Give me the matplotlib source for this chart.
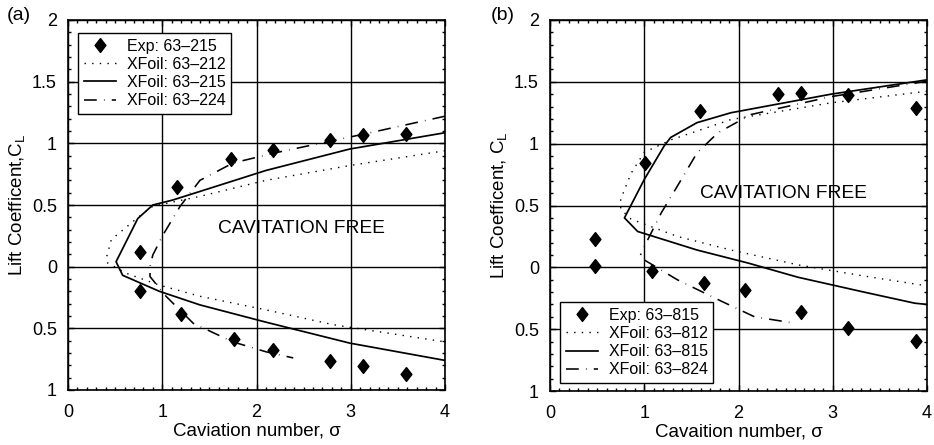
import matplotlib
matplotlib.use("Agg")
import matplotlib.pyplot as plt
from matplotlib.ticker import MultipleLocator, FixedLocator, FixedFormatter

plt.rcParams['font.family'] = ['Liberation Sans', 'DejaVu Sans']

# ---------------- Panel (a) data ----------------
a_exp_x = [0.76, 0.76, 1.16, 1.20, 1.73, 1.76, 2.17, 2.17, 2.78, 2.78, 3.13, 3.13, 3.59, 3.59]
a_exp_y = [0.116, -0.197, 0.643, -0.384, 0.87, -0.589, 0.943, -0.678, 1.024, -0.762, 1.068, -0.805, 1.078, -0.868]

a_212_x = [4.0, 2.99, 2.1, 1.4, 0.9, 0.76, 0.46, 0.41, 0.42, 0.62, 0.97, 1.4, 2.1, 2.81, 4.0]
a_212_y = [0.94, 0.82, 0.70, 0.57, 0.49, 0.41, 0.22, 0.08, 0.03, -0.054, -0.15, -0.24, -0.35, -0.47, -0.61]

a_215_x = [4.0, 2.99, 2.1, 1.4, 1.11, 0.9, 0.74, 0.51, 0.58, 0.97, 1.4, 2.1, 2.99, 4.0]
a_215_y = [1.086, 0.954, 0.78, 0.61, 0.54, 0.50, 0.39, 0.04, -0.07, -0.20, -0.31, -0.45, -0.62, -0.76]

a_224_x = [4.0, 3.17, 2.18, 1.75, 1.4, 1.19, 1.01, 0.90, 0.87, 0.87, 1.04, 1.33, 1.75, 2.1, 2.39]
a_224_y = [1.22, 1.08, 0.92, 0.84, 0.70, 0.49, 0.26, 0.095, 0.0, -0.08, -0.24, -0.46, -0.61, -0.69, -0.74]

# ---------------- Panel (b) data ----------------
b_exp_x = [0.48, 0.48, 1.01, 1.08, 1.59, 1.63, 2.07, 2.42, 2.66, 2.66, 3.16, 3.16, 3.88, 3.88]
b_exp_y = [0.232, 0.008, 0.844, -0.032, 1.262, -0.127, -0.186, 1.403, 1.411, -0.364, 1.397, -0.491, 1.29, -0.599]

b_812_x = [4.0, 2.98, 1.92, 1.28, 1.0, 0.86, 0.75, 0.75, 0.86, 1.35, 1.92, 2.63, 3.33, 4.0]
b_812_y = [1.424, 1.33, 1.195, 1.03, 0.93, 0.76, 0.55, 0.47, 0.39, 0.25, 0.14, 0.02, -0.07, -0.15]

b_815_x = [4.0, 2.98, 1.92, 1.56, 1.28, 1.21, 1.0, 0.79, 0.93, 1.56, 2.10, 2.63, 3.33, 3.87, 4.0]
b_815_y = [1.516, 1.40, 1.25, 1.17, 1.05, 0.98, 0.71, 0.40, 0.29, 0.14, 0.035, -0.08, -0.20, -0.29, -0.30]

b_824_up_x = [4.0, 2.98, 2.13, 1.78, 1.56, 1.35, 1.18, 1.02, 0.96]
b_824_up_y = [1.505, 1.38, 1.235, 1.087, 0.925, 0.655, 0.44, 0.197, 0.10]
b_824_lo_x = [1.0, 1.35, 1.78, 2.17, 2.54]
b_824_lo_y = [0.06, -0.10, -0.26, -0.40, -0.445]

y_ticks = [-1, -0.5, 0, 0.5, 1, 1.5, 2]
y_tick_labels = ["1", "0.5", "0", "0.5", "1", "1.5", "2"]
x_ticks = [0, 1, 2, 3, 4]
x_tick_labels = ["0", "1", "2", "3", "4"]

fig = plt.figure(figsize=(9.34, 4.45), dpi=100)
axA = fig.add_axes([68/934, 1-390/445, (445-68)/934, 370/445])
axB = fig.add_axes([550/934, 1-391/445, (927-550)/934, 371/445])

dash_style = (0, (8, 4.5, 0.4, 4.5))
dot_style = (0, (1, 4.5))
diamond = [(0, 1), (0.78, 0), (0, -1), (-0.78, 0), (0, 1)]

def style(ax, ylabel, xlabel):
    ax.set_xlim(0, 4)
    ax.set_ylim(-1, 2)
    ax.xaxis.set_major_locator(FixedLocator(x_ticks))
    ax.xaxis.set_major_formatter(FixedFormatter(x_tick_labels))
    ax.yaxis.set_major_locator(FixedLocator(y_ticks))
    ax.yaxis.set_major_formatter(FixedFormatter(y_tick_labels))
    ax.xaxis.set_minor_locator(MultipleLocator(0.1))
    ax.yaxis.set_minor_locator(MultipleLocator(0.1))
    ax.tick_params(which='both', direction='in', top=True, right=True, labelsize=13, color='black')
    ax.tick_params(which='major', length=4, width=1)
    ax.tick_params(axis='x', which='major', pad=10)
    ax.tick_params(axis='y', which='major', pad=8)
    ax.tick_params(which='minor', length=2, width=1)
    ax.grid(True, which='major', color='black', linewidth=1)
    ax.set_axisbelow(True)
    for s in ax.spines.values():
        s.set_linewidth(1.2)
    ax.set_xlabel(xlabel, fontsize=13.5, labelpad=1)
    ax.set_ylabel(ylabel, fontsize=13.5, labelpad=3)

# Panel (a)
axA.plot(a_exp_x, a_exp_y, linestyle='none', marker=diamond, markersize=10, color='black',
         label="Exp: 63–215", zorder=5)
axA.plot(a_212_x, a_212_y, linestyle=dot_style, color='black', linewidth=1, label="XFoil: 63–212")
axA.plot(a_215_x, a_215_y, linestyle='-', color='black', linewidth=1.25, label="XFoil: 63–215")
axA.plot(a_224_x, a_224_y, linestyle=dash_style, color='black', linewidth=1.15, label="XFoil: 63–224")
style(axA, r"Lift Coefficent,C$_\mathregular{L}$", "Caviation number, σ")
axA.text(2.48, 0.31, "CAVITATION FREE", fontsize=13.8, ha='center', va='center', zorder=3)
legA = axA.legend(loc='upper left', bbox_to_anchor=(0.0265, 0.965), fontsize=11.5, frameon=True,
                  fancybox=False, edgecolor='black', framealpha=1, handlelength=2.0,
                  borderpad=0.35, labelspacing=0.2, handletextpad=0.7, borderaxespad=0)
legA.get_frame().set_linewidth(1)
fig.text(7/934, 1-16/445, "(a)", fontsize=14, ha='left', va='center')

# Panel (b)
axB.plot(b_exp_x, b_exp_y, linestyle='none', marker=diamond, markersize=10, color='black',
         label="Exp: 63–815", zorder=5)
axB.plot(b_812_x, b_812_y, linestyle=dot_style, color='black', linewidth=1, label="XFoil: 63–812")
axB.plot(b_815_x, b_815_y, linestyle='-', color='black', linewidth=1.25, label="XFoil: 63–815")
axB.plot(b_824_up_x, b_824_up_y, linestyle=dash_style, color='black', linewidth=1.15, label="XFoil: 63–824")
axB.plot(b_824_lo_x, b_824_lo_y, linestyle=dash_style, color='black', linewidth=1.15)
style(axB, r"Lift Coefficent, C$_\mathregular{L}$", "Cavaition number, σ")
axB.text(2.48, 0.6, "CAVITATION FREE", fontsize=13.8, ha='center', va='center', zorder=3)
legB = axB.legend(loc='lower left', bbox_to_anchor=(0.0265, 0.0216), fontsize=11.5, frameon=True,
                  fancybox=False, edgecolor='black', framealpha=1, handlelength=2.0,
                  borderpad=0.35, labelspacing=0.2, handletextpad=0.7, borderaxespad=0)
legB.get_frame().set_linewidth(1)
fig.text(491/934, 1-16/445, "(b)", fontsize=14, ha='left', va='center')

fig.savefig("out.png", dpi=100)
